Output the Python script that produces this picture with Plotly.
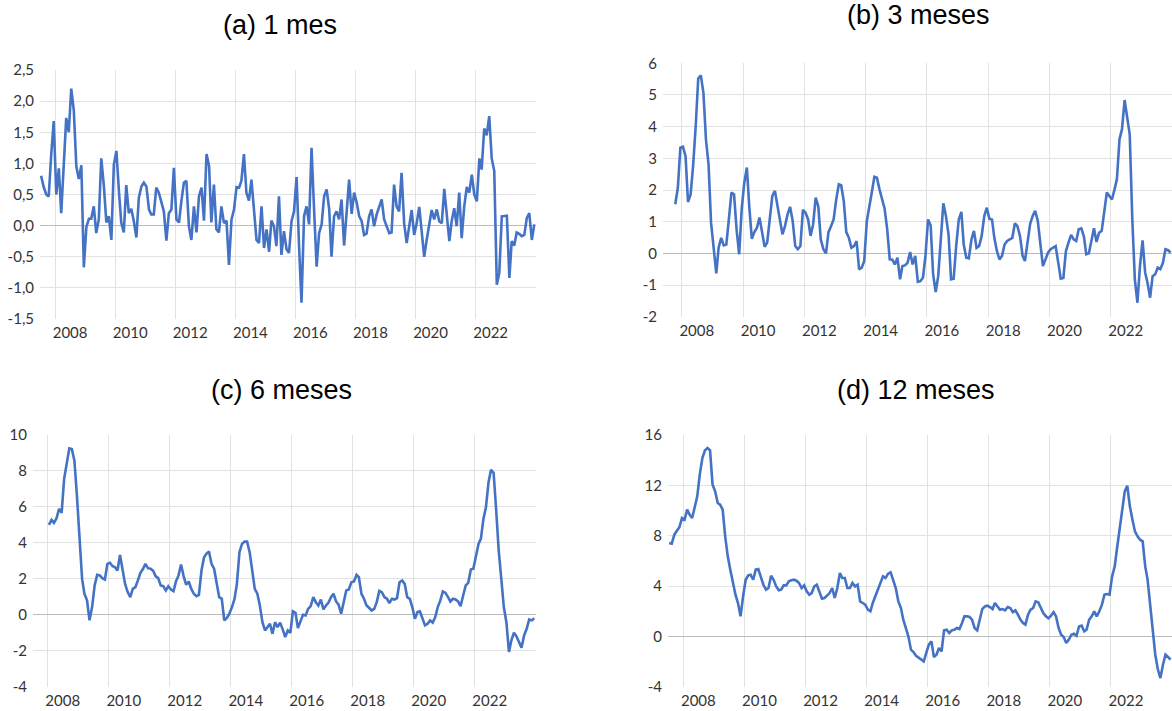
import pandas as pd
import plotly.graph_objects as go

# ---------------- data ----------------
m1 = [0.80, 0.62, 0.50, 0.47, 1.15, 1.68, 0.50, 0.92, 0.20, 0.95, 1.73, 1.50, 2.20, 1.85, 0.95, 0.75, 0.97, -0.67,
      -0.02, 0.11, 0.11, 0.31, -0.12, 0.10, 1.08, 0.65, 0.05, 0.15, -0.23, 0.98, 1.20, 0.55, 0.05, -0.11, 0.65, 0.20,
      0.27, 0.07, -0.19, 0.45, 0.63, 0.69, 0.63, 0.26, 0.18, 0.18, 0.61, 0.53, 0.37, 0.23, -0.24, 0.20, 0.26, 0.93,
      0.10, 0.05, 0.39, 0.69, 0.72, -0.01, -0.23, 0.31, -0.11, 0.47, 0.61, 0.08, 1.15, 0.96, 0.05, 0.66, -0.06, -0.11,
      0.31, 0.04, 0.08, -0.63, 0.10, 0.26, 0.62, 0.61, 0.72, 1.15, 0.53, 0.40, 0.74, 0.20, -0.23, -0.28, 0.31, -0.36,
      -0.06, -0.42, 0.08, -0.01, -0.33, 0.47, -0.47, -0.09, -0.38, -0.44, 0.07, 0.23, 0.78, -0.35, -1.24, 0.15, 0.31,
      0.02, 1.25, 0.26, -0.66, -0.12, 0.02, 0.47, 0.58, 0.26, -0.50, 0.15, 0.23, 0.10, 0.42, -0.32, 0.15, 0.74, 0.19,
      0.53, 0.37, 0.15, 0.08, -0.15, -0.13, 0.15, 0.26, -0.01, 0.18, 0.31, 0.42, 0.10, -0.01, -0.12, -0.11, 0.66, 0.31,
      0.23, 0.85, 0.04, -0.28, -0.04, 0.25, -0.15, 0.04, 0.30, -0.15, -0.50, -0.23, -0.01, 0.25, 0.10, 0.26, 0.07,
      0.04, 0.59, 0.15, -0.25, 0.07, 0.28, -0.01, 0.53, -0.20, 0.31, 0.62, 0.53, 0.82, 0.50, 0.39, 1.08, 0.90, 1.56,
      1.45, 1.76, 1.08, 0.88, -0.95, -0.76, 0.15, 0.15, 0.16, -0.84, -0.25, -0.32, -0.11, -0.13, -0.17, -0.15, 0.12,
      0.20, -0.23, 0.02]

m3 = [1.55, 2.07, 3.34, 3.37, 3.07, 1.62, 1.86, 2.76, 4.02, 5.52, 5.62, 5.07, 3.60, 2.81, 0.97, 0.23, -0.63, 0.18,
      0.49, 0.25, 0.28, 1.07, 1.92, 1.86, 0.76, -0.03, 1.39, 2.23, 2.71, 1.49, 0.46, 0.67, 0.81, 1.13, 0.71, 0.21,
      0.34, 1.07, 1.81, 1.97, 1.49, 1.07, 0.60, 0.86, 1.23, 1.47, 1.02, 0.23, 0.13, 0.23, 1.37, 1.28, 1.07, 0.55,
      0.92, 1.76, 1.49, 0.44, 0.13, 0.00, 0.67, 0.86, 1.07, 1.70, 2.18, 2.15, 1.65, 0.67, 0.49, 0.18, 0.23, 0.39,
      -0.51, -0.45, -0.24, 1.02, 1.44, 1.92, 2.42, 2.39, 2.02, 1.70, 1.41, 0.76, -0.19, -0.20, -0.35, -0.14, -0.82,
      -0.40, -0.38, -0.30, 0.04, -0.35, -0.08, -0.90, -0.88, -0.77, -0.08, 1.07, 0.88, -0.66, -1.22, -0.72, 0.44,
      1.58, 1.18, 0.60, -0.82, -0.80, 0.23, 1.07, 1.31, 0.28, -0.14, -0.16, 0.44, 0.71, 0.17, 0.23, 0.55, 1.18, 1.44,
      1.09, 1.07, 0.49, 0.07, -0.19, -0.08, 0.28, 0.39, 0.44, 0.49, 0.95, 0.86, 0.55, -0.08, -0.24, 0.44, 0.92, 1.18,
      1.34, 1.02, 0.34, -0.40, -0.19, 0.02, 0.13, 0.18, 0.23, -0.30, -0.80, -0.78, 0.07, 0.34, 0.58, 0.44, 0.39, 0.76,
      0.79, 0.53, -0.03, 0.00, 0.34, 0.79, 0.36, 0.65, 0.71, 1.28, 1.92, 1.81, 1.70, 2.02, 2.34, 3.60, 3.92, 4.84,
      4.34, 3.76, 1.07, -0.82, -1.56, -0.40, 0.41, -0.61, -0.93, -1.40, -0.72, -0.66, -0.45, -0.50, -0.30, 0.13, 0.10,
      0.02]

m6 = [5.00, 5.28, 5.11, 5.37, 5.89, 5.67, 7.56, 8.33, 9.26, 9.22, 8.57, 6.63, 4.41, 2.00, 1.17, 0.80, -0.31, 0.43,
      1.63, 2.22, 2.19, 2.04, 1.96, 2.83, 2.89, 2.70, 2.65, 2.46, 3.33, 2.56, 1.72, 1.26, 0.98, 1.44, 1.54, 1.91, 2.33,
      2.56, 2.83, 2.59, 2.56, 2.46, 2.15, 2.04, 1.63, 1.59, 1.35, 1.59, 1.41, 1.31, 1.85, 2.19, 2.80, 2.15, 1.67, 1.85,
      1.44, 1.17, 1.04, 1.11, 2.46, 3.20, 3.39, 3.52, 2.83, 2.56, 1.81, 0.98, 0.89, -0.31, -0.17, 0.06, 0.43, 0.89,
      1.72, 3.48, 3.94, 4.07, 4.07, 3.48, 2.46, 1.44, 1.17, 0.52, -0.41, -0.87, -0.69, -0.50, -1.06, -0.41, -0.69,
      -0.44, -0.81, -1.24, -0.87, -1.00, 0.19, 0.11, -0.74, -0.31, 0.00, -0.04, 0.33, 0.48, 0.98, 0.70, 0.52, 0.85,
      0.30, 0.52, 0.67, 0.98, 1.17, 0.74, 0.56, 0.06, 0.80, 1.35, 1.41, 1.81, 1.85, 2.22, 2.09, 1.17, 0.89, 0.52, 0.39,
      0.24, 0.33, 0.70, 1.33, 1.26, 0.98, 0.89, 0.65, 0.89, 0.85, 0.93, 1.81, 1.91, 1.72, 0.98, 0.89, 0.43, -0.22,
      0.15, 0.19, -0.19, -0.59, -0.50, -0.31, -0.44, -0.13, 0.43, 0.80, 1.30, 1.22, 0.98, 0.74, 0.89, 0.85, 0.74,
      0.48, 1.07, 1.63, 1.78, 2.52, 2.56, 3.20, 3.94, 4.22, 5.33, 5.98, 7.37, 8.07, 7.89, 5.80, 3.57, 2.00, 0.43,
      -0.41, -2.07, -1.43, -1.00, -1.19, -1.52, -1.83, -1.15, -0.78, -0.26, -0.31, -0.19]

m12 = [7.42, 7.36, 8.08, 8.34, 8.69, 9.40, 9.27, 10.07, 9.67, 9.40, 10.33, 11.13, 12.85, 14.17, 14.78, 14.97, 14.78,
       12.05, 11.52, 10.60, 10.46, 10.07, 7.95, 6.36, 5.30, 4.24, 3.31, 2.65, 1.59, 3.18, 4.50, 4.85, 4.90, 4.50, 5.30,
       5.35, 4.77, 4.10, 3.71, 3.84, 4.82, 4.50, 3.97, 3.66, 3.71, 4.05, 4.05, 4.37, 4.45, 4.50, 4.42, 4.24, 3.84,
       4.05, 3.58, 3.31, 3.44, 3.97, 4.10, 3.58, 2.99, 3.05, 3.23, 3.44, 3.84, 3.05, 3.84, 5.03, 4.64, 4.64, 3.84,
       3.84, 4.24, 3.97, 4.10, 2.78, 2.65, 2.52, 2.12, 1.99, 2.65, 3.18, 3.71, 4.32, 4.77, 4.64, 4.98, 5.09, 4.50,
       3.84, 2.78, 2.25, 1.32, 0.66, 0.00, -1.06, -1.25, -1.54, -1.67, -1.80, -1.99, -1.32, -0.66, -0.40, -1.64,
       -1.46, -0.93, -1.19, 0.48, 0.53, 0.26, 0.48, 0.53, 0.66, 0.58, 1.06, 1.59, 1.59, 1.54, 1.32, 0.66, 0.48, 1.32,
       2.17, 2.38, 2.44, 2.33, 2.17, 2.65, 2.38, 2.12, 2.17, 2.07, 2.33, 2.25, 1.93, 2.07, 1.72, 1.32, 1.06, 0.93,
       1.72, 2.12, 2.25, 2.78, 2.70, 2.20, 1.85, 1.59, 1.43, 1.64, 1.93, 1.59, 0.66, 0.13, -0.05, -0.53, -0.26, 0.13,
       0.21, 0.05, 0.79, 0.85, 0.40, 0.53, 1.32, 1.59, 1.99, 1.59, 1.99, 2.52, 3.31, 3.36, 3.31, 4.77, 5.56, 7.02,
       8.48, 10.07, 11.52, 11.97, 10.33, 9.27, 8.34, 7.95, 7.68, 7.55, 5.56, 4.50, 2.38, 0.53, -1.46, -2.60, -3.31,
       -2.25, -1.46, -1.64, -1.85]

start_dates = {"a": "2007-07-01", "b": "2007-10-01", "c": "2008-01-01", "d": "2007-07-01"}
titles = ["(a) 1 mes", "(b) 3 meses", "(c) 6 meses", "(d) 12 meses"]
year_ticks = ["2008", "2010", "2012", "2014", "2016", "2018", "2020", "2022"]
yticks_a = [-1.5, -1.0, -0.5, 0.0, 0.5, 1.0, 1.5, 2.0, 2.5]
yticks_a_text = ["-1,5", "-1,0", "-0,5", "0,0", "0,5", "1,0", "1,5", "2,0", "2,5"]
yticks_b = [-2, -1, 0, 1, 2, 3, 4, 5, 6]
yticks_c = [-4, -2, 0, 2, 4, 6, 8, 10]
yticks_d = [-4, 0, 4, 8, 12, 16]

# ---------------- layout geometry (pixels) ----------------
W, H = 1172, 711
panels = [
    (m1, "a", 40.0, 535.7, 70.0, 319.0, ["2007-07-01", "2024-01-01"], yticks_a, yticks_a_text),
    (m3, "b", 663.0, 1172.0, 63.3, 316.7, ["2007-05-22", "2024-01-01"], yticks_b, [str(v) for v in yticks_b]),
    (m6, "c", 33.0, 535.7, 435.0, 686.7, ["2007-07-08", "2024-01-01"], yticks_c, [str(v) for v in yticks_c]),
    (m12, "d", 668.0, 1172.0, 435.0, 686.7, ["2007-07-01", "2024-01-01"], yticks_d, [str(v) for v in yticks_d]),
]
title_pos = [(280, 25), (918, 15), (281, 390), (916, 390)]

LINE = "#4472C4"
GRID = "#e2e2e2"
ZERO = "#bcbcbc"
TICKFONT = dict(family="Lato", size=15, color="#333333")

fig = go.Figure()
layout = dict(
    width=W, height=H, margin=dict(l=0, r=0, t=0, b=0, autoexpand=False),
    paper_bgcolor="white", plot_bgcolor="white", showlegend=False,
    separators=",.",
)

for i, (series, key, x0, x1, yt, yb, xr, yv, ytxt) in enumerate(panels):
    n = i + 1
    xs = "" if n == 1 else str(n)
    lab = str(n + 4)
    dates = pd.date_range(start_dates[key], periods=len(series), freq="MS") + pd.Timedelta(days=14)
    # empty trace keeps the grid axis alive; data is drawn on the labelled overlay axis
    fig.add_trace(go.Scatter(x=[], y=[], mode="lines", xaxis="x" + xs, yaxis="y" + xs, hoverinfo="skip"))
    fig.add_trace(go.Scatter(x=dates, y=series, mode="lines",
                             line=dict(color=LINE, width=2.6),
                             xaxis="x" + xs, yaxis="y" + lab, hoverinfo="skip"))
    dom_x = [x0 / W, min(x1 / W, 1.0)]
    dom_y = [1 - yb / H, 1 - yt / H]
    yr = [yv[0], yv[-1]]
    layout["xaxis" + xs] = dict(
        domain=dom_x, range=xr, type="date", anchor="y" + xs,
        tickmode="array", tickvals=[f"{y}-01-01" for y in year_ticks], ticktext=year_ticks,
        showgrid=True, gridcolor=GRID, gridwidth=1, zeroline=False, showline=False,
        ticks="", tickfont=TICKFONT, ticklabelshift=15, ticklabelstandoff=3, automargin=False,
    )
    layout["yaxis" + xs] = dict(
        domain=dom_y, range=yr, anchor="x" + xs,
        tickmode="array", tickvals=yv[1:-1], showticklabels=False,
        showgrid=True, gridcolor=GRID, gridwidth=1,
        zeroline=True, zerolinecolor=ZERO, zerolinewidth=1, showline=False, ticks="", automargin=False,
    )
    layout["yaxis" + lab] = dict(
        overlaying="y" + xs, anchor="x" + xs, range=yr, side="left",
        tickmode="array", tickvals=yv, ticktext=ytxt, showgrid=False, zeroline=False,
        showline=False, ticks="", tickfont=TICKFONT, ticklabelstandoff=5, automargin=False,
    )

annotations = []
for t, (cx, cy) in zip(titles, title_pos):
    annotations.append(dict(text=t, x=cx / W, y=1 - cy / H, xref="paper", yref="paper",
                            showarrow=False, xanchor="center", yanchor="middle",
                            font=dict(family="Liberation Sans", size=27, color="#000000")))
layout["annotations"] = annotations
fig.update_layout(**layout)

fig.write_html("out.html", config={"displayModeBar": False, "staticPlot": True},
               post_script="document.body.style.margin='0';document.body.style.overflow='hidden';")
